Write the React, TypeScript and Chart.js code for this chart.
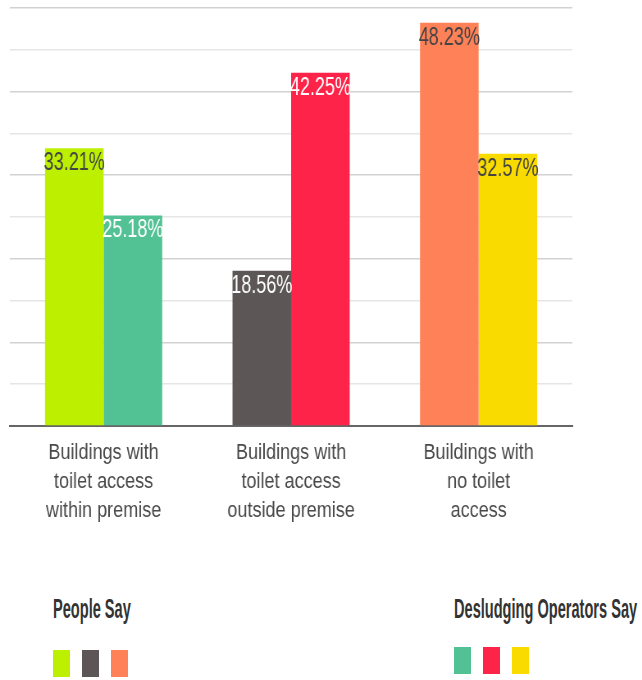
import React, { useEffect, useRef } from "react";
import { Chart, registerables } from "chart.js";

Chart.register(...registerables);

const categories: string[][] = [
  ["Buildings with", "toilet access", "within premise"],
  ["Buildings with", "toilet access", "outside premise"],
  ["Buildings with", "no toilet", "access"],
];
const peopleSay: number[] = [33.21, 18.56, 48.23];
const operatorsSay: number[] = [25.18, 42.25, 32.57];
const peopleColors: string[] = ["#bcf000", "#5c5756", "#ff8157"];
const operatorColors: string[] = ["#52c194", "#fd2349", "#f9db00"];
const peopleLabelColors: string[] = ["#444444", "#ffffff", "#444444"];
const operatorLabelColors: string[] = ["#ffffff", "#ffffff", "#444444"];
const seriesNames: string[] = ["People Say", "Desludging Operators Say"];

const FONT = '"Liberation Sans", Arial, sans-serif';
const SQUISH = 0.82;
const CANVAS_W = Math.round(642 / SQUISH);
const CANVAS_H = 540;

const valueLabelPlugin = {
  id: "valueLabels",
  afterDatasetsDraw(chart: any) {
    const ctx = chart.ctx;
    chart.data.datasets.forEach((ds: any, di: number) => {
      const meta = chart.getDatasetMeta(di);
      meta.data.forEach((el: any, i: number) => {
        const v = ds.data[i];
        ctx.save();
        ctx.font = `25px ${FONT}`;
        ctx.fillStyle = ds.labelColors[i];
        ctx.textAlign = "center";
        ctx.textBaseline = "alphabetic";
        ctx.translate(el.x, el.y + 22);
        ctx.scale(0.88, 1);
        ctx.fillText(v.toFixed(2) + "%", 0, 0);
        ctx.restore();
      });
    });
  },
};

function BarChart() {
  const ref = useRef<HTMLCanvasElement | null>(null);
  useEffect(() => {
    if (!ref.current) return;
    const chart = new Chart(ref.current, {
      type: "bar",
      data: {
        labels: categories,
        datasets: [
          {
            label: seriesNames[0],
            data: peopleSay,
            backgroundColor: peopleColors,
            labelColors: peopleLabelColors,
          } as any,
          {
            label: seriesNames[1],
            data: operatorsSay,
            backgroundColor: operatorColors,
            labelColors: operatorLabelColors,
          } as any,
        ],
      },
      options: {
        animation: false,
        responsive: false,
        maintainAspectRatio: false,
        devicePixelRatio: 1,
        layout: { padding: { left: 12, right: 85, top: 8, bottom: 3 } },
        datasets: { bar: { categoryPercentage: 0.625, barPercentage: 1 } },
        plugins: { legend: { display: false }, tooltip: { enabled: false } },
        scales: {
          x: {
            grid: { display: false, drawTicks: false },
            border: { display: true, color: "#666666", width: 2 },
            ticks: {
              padding: 12,
              color: "#4a4a4a",
              font: { family: FONT, size: 22, lineHeight: 29 / 22 },
            },
          },
          y: {
            min: 0,
            max: 50,
            ticks: { display: false, stepSize: 5 },
            border: { display: false },
            grid: {
              drawTicks: false,
              lineWidth: 1.5,
              color: (c: any) => {
                const v = c.tick ? c.tick.value : 0;
                if (v === 0) return "rgba(0,0,0,0)";
                return v % 10 === 0 ? "#d2d2d2" : "#e6e6e6";
              },
            },
          },
        },
      },
      plugins: [valueLabelPlugin],
    });
    return () => chart.destroy();
  }, []);
  return (
    <div style={{ position: "absolute", left: 0, top: 0, width: CANVAS_W, height: CANVAS_H, transform: `scaleX(${SQUISH})`, transformOrigin: "left top" }}>
      <canvas ref={ref} width={CANVAS_W} height={CANVAS_H} style={{ width: CANVAS_W, height: CANVAS_H, display: "block" }} />
    </div>
  );
}

function LegendGroup({ title, colors, left, titleTop, squareTop }: { title: string; colors: string[]; left: number; titleTop: number; squareTop: number }) {
  return (
    <>
      <div
        style={{
          position: "absolute",
          left,
          top: titleTop,
          fontFamily: FONT,
          fontWeight: "bold",
          fontSize: 27,
          lineHeight: "27px",
          color: "#333333",
          whiteSpace: "nowrap",
          transform: "scaleX(0.54)",
          transformOrigin: "left top",
        }}
      >
        {title}
      </div>
      {colors.map((c, i) => (
        <div
          key={i}
          style={{
            position: "absolute",
            left: left + i * 29,
            top: squareTop,
            width: 17,
            height: 27,
            background: c,
          }}
        />
      ))}
    </>
  );
}

export default function App() {
  return (
    <div style={{ position: "absolute", left: 0, top: 0, width: 642, height: 680, background: "#ffffff", overflow: "hidden" }}>
      <BarChart />
      <LegendGroup title={seriesNames[0]} colors={peopleColors} left={53} titleTop={596} squareTop={650} />
      <LegendGroup title={seriesNames[1]} colors={operatorColors} left={454} titleTop={596} squareTop={647} />
    </div>
  );
}
